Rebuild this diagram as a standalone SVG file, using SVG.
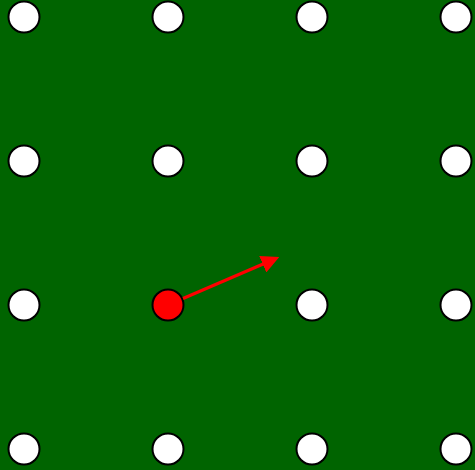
<svg xmlns="http://www.w3.org/2000/svg" width="475" height="470" viewBox="0 0 475 470">
<style>
.n{fill:#fff;stroke:#000;stroke-width:2}
.r{fill:#f00;stroke:#000;stroke-width:2}
.c{stroke:#f00;stroke-width:3;fill:none}
</style>
<defs>
<marker id="ah" markerWidth="6" markerHeight="6" refX="1" refY="3" orient="auto" markerUnits="strokeWidth">
<path d="M0,0 L6,3 L0,6 z" fill="#f00"/>
</marker>
</defs>
<rect width="475" height="470" fill="#006400"/>
<g id="n00"><circle class="n" cx="24" cy="17" r="15.5"/></g>
<g id="n10"><circle class="n" cx="168" cy="17" r="15.5"/></g>
<g id="n20"><circle class="n" cx="312" cy="17" r="15.5"/></g>
<g id="n30"><circle class="n" cx="456" cy="17" r="15.5"/></g>
<g id="n01"><circle class="n" cx="24" cy="161" r="15.5"/></g>
<g id="n11"><circle class="n" cx="168" cy="161" r="15.5"/></g>
<g id="n21"><circle class="n" cx="312" cy="161" r="15.5"/></g>
<g id="n31"><circle class="n" cx="456" cy="161" r="15.5"/></g>
<g id="n02"><circle class="n" cx="24" cy="305" r="15.5"/></g>
<g id="n12"><circle class="r" cx="168" cy="305" r="15.5"/></g>
<g id="n22"><circle class="n" cx="312" cy="305" r="15.5"/></g>
<g id="n32"><circle class="n" cx="456" cy="305" r="15.5"/></g>
<g id="n03"><circle class="n" cx="24" cy="449" r="15.5"/></g>
<g id="n13"><circle class="n" cx="168" cy="449" r="15.5"/></g>
<g id="n23"><circle class="n" cx="312" cy="449" r="15.5"/></g>
<g id="n33"><circle class="n" cx="456" cy="449" r="15.5"/></g>
<g id="connectors">
<line class="c" x1="183" y1="298.5" x2="265.5" y2="263" marker-end="url(#ah)"/>
</g>
</svg>
